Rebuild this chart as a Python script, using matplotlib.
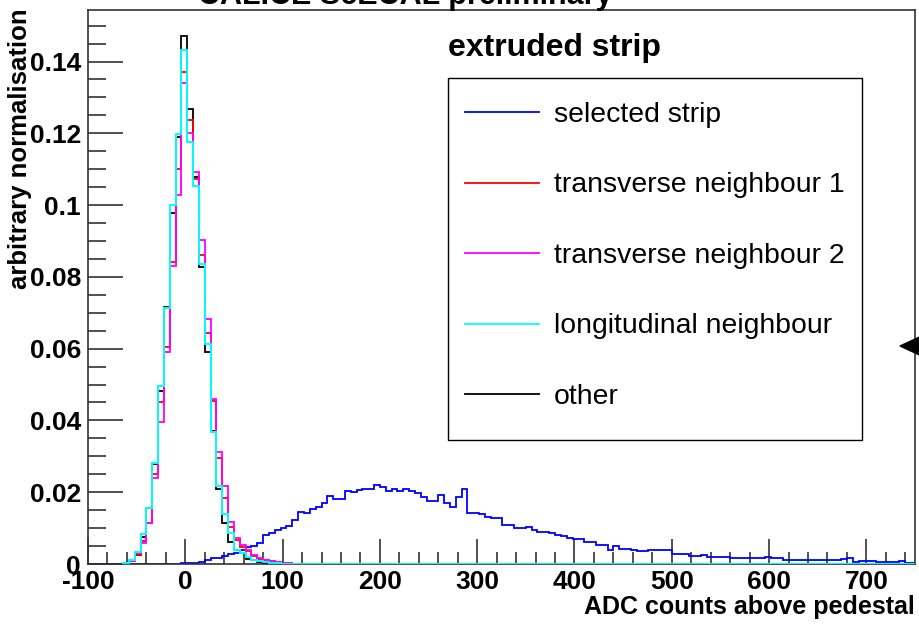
import matplotlib
matplotlib.use("Agg")
import matplotlib.pyplot as plt
from matplotlib.lines import Line2D
from matplotlib.patches import Polygon, Rectangle
from matplotlib.ticker import MultipleLocator, FuncFormatter
import numpy as np

plt.rcParams["font.family"] = ["Liberation Sans", "DejaVu Sans"]
plt.rcParams["axes.unicode_minus"] = False

# histogram binning: 6 ADC counts per bin starting at -100
bin_lo = -100
bin_w = 6
n_bins = 142

# selected strip, bins 0..141
selected = [
    0, 0, 0, 0, 0, 0, 0, 0, 0, 0, 0, 0, 0, 0, 0, 0,
    0.0002, 0.0003, 0.0004, 0.0006, 0.0011, 0.0016, 0.0018, 0.0022, 0.0027, 0.0032,
    0.0039, 0.0046, 0.0050, 0.0058, 0.0081, 0.0087, 0.0095, 0.0099, 0.0106, 0.0123,
    0.0146, 0.0141, 0.0152, 0.0160, 0.0169, 0.0189, 0.0180, 0.0180, 0.0204, 0.0200,
    0.0206, 0.0208, 0.0208, 0.0220, 0.0214, 0.0204, 0.0208, 0.0204, 0.0208, 0.0204,
    0.0197, 0.0188, 0.0176, 0.0176, 0.0192, 0.0171, 0.0160, 0.0188, 0.0208, 0.0141,
    0.0141, 0.0138, 0.0132, 0.0127, 0.0127, 0.0109, 0.0109, 0.0099, 0.0099, 0.0104,
    0.0096, 0.0090, 0.0090, 0.0085, 0.0080, 0.0078, 0.0072, 0.0069, 0.0069, 0.0060,
    0.0062, 0.0053, 0.0052, 0.0039, 0.0050, 0.0042, 0.0042, 0.0038, 0.0036, 0.0036,
    0.0038, 0.0040, 0.0040, 0.0040, 0.0028, 0.0028, 0.0028, 0.0022, 0.0022, 0.0026,
    0.0020, 0.0020, 0.0020, 0.0020, 0.0016, 0.0016, 0.0016, 0.0016, 0.0016, 0.0018,
    0.0019, 0.0016, 0.0016, 0.0011, 0.0011, 0.0011, 0.0011, 0.0011, 0.0011, 0.0011,
    0.0010, 0.0012, 0.0011, 0.0013, 0.0017, 0.0006, 0.0008, 0.0008, 0.0008, 0.0005,
    0.0006, 0.0006, 0.0006, 0.0008, 0.0003, 0.0003,
]

# neighbours: values from bin 6 onwards, zero after the listed bins
peak_start = 6
transverse1 = [0.0002, 0.0008, 0.0024, 0.0065, 0.0115, 0.0250, 0.0452, 0.0605, 0.0842, 0.1100,
               0.1370, 0.1237, 0.1072, 0.0861, 0.0644, 0.0455, 0.0294, 0.0183, 0.0104, 0.0066,
               0.0047, 0.0035, 0.0022, 0.0015, 0.0010, 0.0007, 0.0005, 0.0003, 0.0002]
transverse2 = [0.0002, 0.0009, 0.0030, 0.0059, 0.0113, 0.0239, 0.0395, 0.0591, 0.0830, 0.1027,
               0.1340, 0.1202, 0.1093, 0.0904, 0.0684, 0.0460, 0.0313, 0.0217, 0.0118, 0.0073,
               0.0053, 0.0040, 0.0025, 0.0017, 0.0011, 0.0008, 0.0006, 0.0004, 0.0002]
longitudinal = [0.0003, 0.0011, 0.0034, 0.0084, 0.0157, 0.0281, 0.0496, 0.0712, 0.1001, 0.1198,
                0.1433, 0.1176, 0.1053, 0.0835, 0.0613, 0.0367, 0.0217, 0.0139, 0.0087, 0.0039,
                0.0031, 0.0020, 0.0012, 0.0008, 0.0005, 0.0003, 0.0002, 0.0001, 0.0000]
other = [0.0002, 0.0008, 0.0025, 0.0074, 0.0155, 0.0280, 0.0483, 0.0717, 0.0979, 0.1190,
         0.1472, 0.1268, 0.1079, 0.0828, 0.0591, 0.0370, 0.0210, 0.0113, 0.0062, 0.0040,
         0.0030, 0.0015, 0.0010, 0.0006, 0.0004, 0.0002, 0.0001, 0.0000, 0.0000]

labels = ["selected strip", "transverse neighbour 1", "transverse neighbour 2",
          "longitudinal neighbour", "other"]
colors = ["#0000ff", "#ff0000", "#ff00ff", "#00ffff", "#000000"]

x_ticks = [-100, 0, 100, 200, 300, 400, 500, 600, 700]
y_ticks = [0, 0.02, 0.04, 0.06, 0.08, 0.1, 0.12, 0.14]


def padded(vals):
    out = np.zeros(n_bins - peak_start)
    out[:len(vals)] = vals
    return out


edges = bin_lo + bin_w * np.arange(n_bins + 1)
edges_peak = edges[peak_start:]

fig = plt.figure(figsize=(9.2, 6.24), dpi=100)
ax = fig.add_axes([88 / 920, 1 - 564 / 624, 827 / 920, 554.5 / 624])

ax.stairs(selected, edges, color=colors[0], lw=1.3, zorder=2)
ax.stairs(padded(other), edges_peak, color=colors[4], lw=1.3, zorder=3)
ax.stairs(padded(transverse1), edges_peak, color=colors[1], lw=1.3, zorder=4)
ax.stairs(padded(transverse2), edges_peak, color=colors[2], lw=1.3, zorder=5)
ax.stairs(padded(longitudinal), edges_peak, color=colors[3], lw=1.4, zorder=6)

ax.set_xlim(-100, 750)
ax.set_ylim(0, 0.1545)
ax.set_xticks(x_ticks)
ax.set_yticks(y_ticks)
ax.xaxis.set_minor_locator(MultipleLocator(20))
ax.yaxis.set_minor_locator(MultipleLocator(0.005))
ax.yaxis.set_major_formatter(FuncFormatter(lambda v, p: "0" if v == 0 else f"{v:g}"))
ax.tick_params(which="both", direction="in", top=False, right=False, width=1.1,
               labelsize=19, color="#222222")
ax.tick_params(axis="y", which="major", length=25, pad=5)
ax.tick_params(axis="y", which="minor", length=13)
ax.tick_params(axis="x", which="major", length=18, pad=4)
ax.tick_params(axis="x", which="minor", length=9)
for lab in ax.get_xticklabels() + ax.get_yticklabels():
    lab.set_fontweight("bold")
for sp in ax.spines.values():
    sp.set_color("#333333")
    sp.set_linewidth(1.2)

fig.text(915 / 920, 1 - 607 / 624, "ADC counts above pedestal", ha="right", va="center",
         fontsize=18, fontweight="bold")
fig.text(20 / 920, 1 - 8 / 624, "arbitrary normalisation", rotation=90, ha="center",
         va="top", fontsize=18.5, fontweight="bold")
fig.text(405 / 920, 1 - 4 / 624, "CALICE ScECAL preliminary", ha="center", va="baseline",
         fontsize=22, fontweight="bold")
fig.text(448 / 920, 1 - 48 / 624, "extruded strip", ha="left", va="center",
         fontsize=23, fontweight="bold")

# legend box drawn separately, entries placed inside it
fig.patches.append(Rectangle((448 / 920, 1 - 440 / 624), 414 / 920, 362 / 624,
                             transform=fig.transFigure, fill=False, edgecolor="black",
                             lw=1.0, figure=fig))
handles = [Line2D([], [], color=c, lw=1.3) for c in colors]
leg = ax.legend(handles, labels, loc="upper left",
                bbox_to_anchor=(465 / 920, 1 - 102 / 624),
                bbox_transform=fig.transFigure, fontsize=20.4,
                handlelength=2.6, handletextpad=0.54, borderpad=0, labelspacing=1.57,
                borderaxespad=0, frameon=False)

# editor marker at the right edge
fig.patches.append(Polygon([(900 / 920, 1 - 346 / 624), (926 / 920, 1 - 334 / 624),
                            (926 / 920, 1 - 358 / 624)], closed=True,
                           transform=fig.transFigure, color="black", figure=fig))

fig.savefig("out.png", dpi=100)
